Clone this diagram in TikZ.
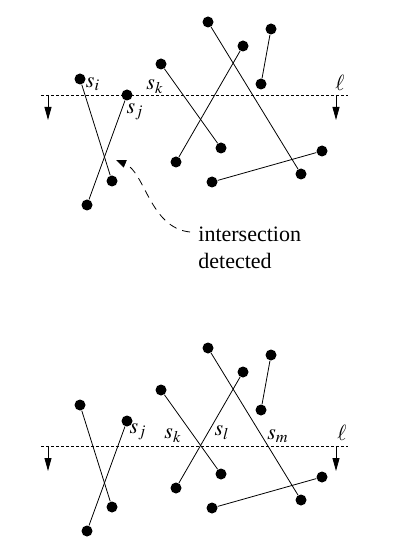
\documentclass[tikz,border=0pt]{standalone}
\usepackage{mathptmx}
\usepackage{fontspec}
\setmainfont{Liberation Serif}
\usetikzlibrary{arrows.meta}

\begin{document}
\begin{tikzpicture}[
  x=0.5pt, y=-0.5pt,
  font=\fontsize{11}{13.5}\selectfont,
  >={Triangle[width=3.5pt,length=6.5pt]},
  dot/.style={circle, fill, inner sep=0pt, minimum size=5.5pt},
  sweep/.style={dash pattern=on 1.5pt off 1pt},
  hint/.style={dash pattern=on 4pt off 3pt, -{Triangle[width=4pt,length=5pt]}},
  lbl/.style={inner sep=0pt}
]
  \useasboundingbox (0,0) rectangle (400,555);

  % both panels: the same segments, the sweep line moves down
  \foreach \p/\dy/\sy in {t/0/95, b/326/120}{
    \begin{scope}[shift={(0,\dy)}]
      \foreach \ax/\ay/\bx/\by [count=\i] in {80/79/112/181, 127/95/87/205,
          161/64/221/148, 243/46/176/162, 208/22/301/174, 271/29/261/84,
          212/182/322/151}{
        \node[dot] (\p a\i) at (\ax,\ay) {};
        \node[dot] (\p b\i) at (\bx,\by) {};
        \draw (\p a\i) -- (\p b\i);
      }
      \coordinate (\p L) at (41,\sy);
      \coordinate (\p R) at (348,\sy);
      \coordinate (\p l1) at (48,\sy);
      \coordinate (\p l2) at (48,{\sy+25});
      \coordinate (\p r1) at (336,\sy);
      \coordinate (\p r2) at (336,{\sy+25});
      \draw[sweep] (\p L) -- (\p R);
      \draw[->] (\p l1) -- (\p l2);
      \draw[->] (\p r1) -- (\p r2);
    \end{scope}
  }

  % top panel labels
  \node[lbl] (si) at (93,84) {$s_i$};
  \node[lbl] (sk) at (155,87) {$s_k$};
  \node[lbl] (sj) at (135,112) {$s_j$};
  \node[lbl] (ell) at (340,83) {$\ell$};

  % found crossing
  \node[lbl, anchor=north west, align=left] (txt) at (198,227)
    {intersection\\detected};
  \coordinate (hstart) at (190,232);
  \coordinate (hend) at (116,160);
  \draw[hint] (hstart) .. controls (150,228) and (145,172) .. (hend);

  % bottom panel labels
  \node[lbl] (sj2) at (138,432) {$s_j$};
  \node[lbl] (sk2) at (173,436) {$s_k$};
  \node[lbl] (sl2) at (222,433) {$s_l$};
  \node[lbl] (sm2) at (278,436) {$s_m$};
  \node[lbl] (ell2) at (342,433) {$\ell$};
\end{tikzpicture}
\end{document}
